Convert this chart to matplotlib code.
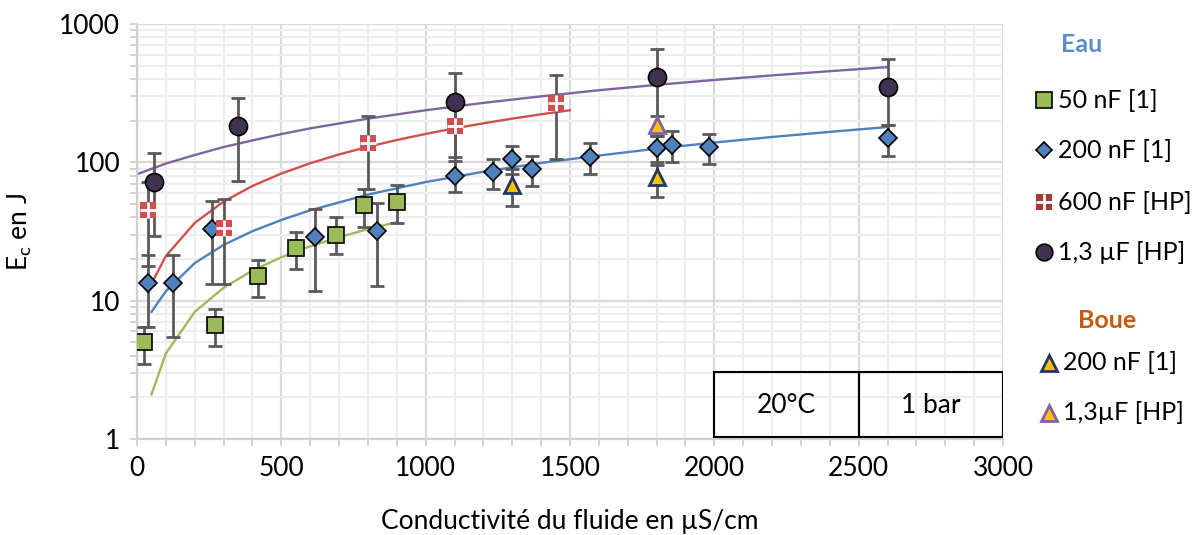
import matplotlib
matplotlib.use('Agg')
import matplotlib.pyplot as plt
from matplotlib.lines import Line2D
from matplotlib.patches import Rectangle
from matplotlib.ticker import FixedLocator, NullFormatter
import numpy as np

plt.rcParams['font.family'] = ['Lato', 'DejaVu Sans']
plt.rcParams['mathtext.default'] = 'regular'

# Measured points, "Eau"
green_x = [25, 270, 420, 550, 690, 785, 900]
green_y = [5.0, 6.7, 15.1, 24, 30, 49, 52]
green_lo = [3.5, 4.7, 10.6, 17, 21.8, 34, 36.5]
green_hi = [6.5, 8.7, 19.7, 31.4, 40, 64, 68.7]

blue_x = [37, 125, 260, 615, 832, 1100, 1233, 1300, 1367, 1570, 1800, 1852, 1980, 2600]
blue_y = [13.4, 13.5, 32.8, 29, 32, 80, 85.7, 106, 89, 109, 126, 134, 129, 150]
blue_lo = [6.45, 5.45, 13.1, 11.8, 12.8, 61, 64.5, 82, 67, 82, 96, 101, 97, 111]
blue_hi = [21.4, 21.4, 52.6, 46, 51, 102, 106, 132, 111, 138, 156, 169, 160, 186]

red_x = [37, 300, 800, 1100, 1450]
red_y = [45, 33.7, 138, 184, 268]
red_lo = [17.8, 13.3, 64, 80, 106]
red_hi = [72, 54, 216, 290, 429]

purple_x = [60, 350, 1100, 1800, 2600]
purple_y = [72, 183, 275, 415, 351]
purple_lo = [29.4, 73, 110, 165, 186]
purple_hi = [117, 292, 441, 657, 560]
purple_xerr_last = 20

# Measured points, "Boue"
boue200_x = [1300, 1800]
boue200_y = [68.7, 78.8]
boue200_lo = [48.5, 56.5]
boue200_hi = [89, 101]

boue13_x = [1800]
boue13_y = [185]
boue13_lo = [155]
boue13_hi = [215]

# Model curves
green_line_x = [50, 100, 200, 300, 400, 500, 600, 700, 800, 900]
green_line_y = [2.1, 4.15, 8.3, 12.4, 16.5, 20.6, 24.7, 28.8, 32.9, 37]
blue_line_x = [50, 100, 200, 300, 400, 500, 600, 800, 1000, 1200, 1400, 1600, 1800, 2000, 2200, 2400, 2600]
blue_line_y = [8.3, 11.7, 18.7, 25.3, 31.8, 38.3, 45, 58.5, 72, 85.5, 99, 112, 125.5, 139, 152.5, 166, 180]
red_line_x = [50, 100, 200, 300, 400, 500, 600, 700, 800, 900, 1000, 1100, 1200, 1300, 1400, 1500]
red_line_y = [13.3, 21, 36.5, 52, 67.5, 83, 98.5, 114, 129.5, 145, 160.5, 176, 191.5, 207, 222.5, 238]
purple_line_x = [0, 100, 200, 300, 400, 500, 600, 800, 1000, 1200, 1400, 1600, 1800, 2000, 2200, 2400, 2600]
purple_line_y = [82, 98, 113, 129, 144, 160, 176, 207, 238, 269, 300, 332, 363, 394, 425, 456, 488]

GREEN = '#9bbb59'
BLUE = '#4f81bd'
RED = '#d0504d'
PURPLE = '#8064a2'
DARKPURPLE = '#403151'
YELLOW = '#ffc000'
ERR = '#595959'

fig = plt.figure(figsize=(12.03, 5.35), dpi=100)
ax = fig.add_axes([137 / 1203, 1 - 439 / 535, 866 / 1203, 415 / 535])

ax.set_yscale('log')
ax.set_xlim(0, 3000)
ax.set_ylim(1, 1000)

# grid
ax.xaxis.set_major_locator(FixedLocator(np.arange(0, 3001, 500)))
ax.xaxis.set_minor_locator(FixedLocator(np.arange(0, 3001, 100)))
ax.grid(True, which='major', color='#d9d9d9', linewidth=1.6, zorder=0)
ax.grid(True, which='minor', color='#eeeeee', linewidth=1.6, zorder=0)
ax.set_axisbelow(True)
for s in ['top', 'right']:
    ax.spines[s].set_visible(False)
for s in ['left', 'bottom']:
    ax.spines[s].set_color('#d0d0d0')
    ax.spines[s].set_linewidth(1.6)
ax.tick_params(which='both', direction='out', color='#d0d0d0', width=1.3, length=5)
ax.tick_params(which='major', labelsize=19, pad=7)
ax.yaxis.set_minor_formatter(NullFormatter())
ax.set_yticks([1, 10, 100, 1000])
ax.set_yticklabels(['1', '10', '100', '1000'])

# model lines
ax.plot(green_line_x, green_line_y, color=GREEN, lw=1.7, zorder=2)
ax.plot(blue_line_x, blue_line_y, color=BLUE, lw=1.7, zorder=2)
ax.plot(red_line_x, red_line_y, color=RED, lw=1.7, zorder=2)
ax.plot(purple_line_x, purple_line_y, color=PURPLE, lw=1.7, zorder=2)

def err(y, lo, hi):
    y = np.array(y)
    return [y - np.array(lo), np.array(hi) - y]

eb = dict(fmt='none', ecolor=ERR, elinewidth=2, capsize=5, capthick=2, zorder=3)
ax.errorbar(green_x, green_y, yerr=err(green_y, green_lo, green_hi), **eb)
ax.errorbar(blue_x, blue_y, yerr=err(blue_y, blue_lo, blue_hi), **eb)
ax.errorbar(red_x, red_y, yerr=err(red_y, red_lo, red_hi), **eb)
ax.errorbar(purple_x, purple_y, yerr=err(purple_y, purple_lo, purple_hi), **eb)
ax.errorbar(purple_x[-1:], purple_y[-1:], xerr=purple_xerr_last, **eb)
ax.errorbar(boue200_x, boue200_y, yerr=err(boue200_y, boue200_lo, boue200_hi), **eb)
ax.errorbar(boue13_x, boue13_y, yerr=err(boue13_y, boue13_lo, boue13_hi), **eb)

# markers
ax.plot(green_x, green_y, 's', ms=12, mfc=GREEN, mec='black', mew=1.2, zorder=5)
ax.plot(blue_x, blue_y, 'D', ms=9, mfc=BLUE, mec='black', mew=1.2, zorder=5)
ax.plot(red_x, red_y, 's', ms=11, mfc=RED, mec=RED, mew=0, zorder=5)
ax.plot(red_x, red_y, '+', ms=11, mec='white', mew=2, zorder=6)
ax.plot(purple_x, purple_y, 'o', ms=13, mfc=DARKPURPLE, mec='black', mew=1.2, zorder=5)
ax.plot(boue200_x, boue200_y, '^', ms=12, mfc=YELLOW, mec='#1f3864', mew=2, zorder=7)
ax.plot(boue13_x, boue13_y, '^', ms=12, mfc=YELLOW, mec=PURPLE, mew=2, zorder=7)

# conditions box
ax.add_patch(Rectangle((2000, 1.03), 500, 2.0, fill=False, ec='black', lw=1.5, zorder=8))
ax.add_patch(Rectangle((2500, 1.03), 500, 2.0, fill=False, ec='black', lw=1.5, zorder=8))
ax.text(2250, 1.75, '20°C', ha='center', va='center', fontsize=19, zorder=9)
ax.text(2750, 1.75, '1 bar', ha='center', va='center', fontsize=19, zorder=9)

ax.set_xlabel('Conductivité du fluide en µS/cm', fontsize=19)
ax.set_ylabel('E$_{c}$ en J', fontsize=19)
ax.xaxis.set_label_coords(0.5, -82 / 415)
ax.yaxis.set_label_coords(-117 / 866, 0.5)
ax.xaxis.label.set_va('center')
ax.yaxis.label.set_va('center')

# side legend
def fx(px):
    return px / 1203

def fy(py):
    return 1 - py / 535

fig.text(fx(1082), fy(45), 'Eau', color='#5b8ed0', fontsize=18, fontweight='bold', ha='center', va='center')
fig.text(fx(1107), fy(320), 'Boue', color='#c55a11', fontsize=18, fontweight='bold', ha='center', va='center')

items = [
    (1044, 100, dict(marker='s', ms=12, mfc=GREEN, mec='black', mew=1.2), '50 nF [1]', 1058),
    (1044, 150, dict(marker='D', ms=8, mfc=BLUE, mec='black', mew=1.2), '200 nF [1]', 1058),
    (1044, 202, dict(marker='s', ms=12, mfc='#a33a37', mec='#a33a37', mew=0), '600 nF [HP]', 1058),
    (1044, 252, dict(marker='o', ms=12, mfc=DARKPURPLE, mec='black', mew=1.2), '1,3 µF [HP]', 1058),
    (1049, 363, dict(marker='^', ms=11, mfc=YELLOW, mec='#1f3864', mew=2), '200 nF [1]', 1063),
    (1049, 413, dict(marker='^', ms=11, mfc=YELLOW, mec=PURPLE, mew=2), '1,3µF [HP]', 1063),
]
for px, py, style, label, tx in items:
    fig.add_artist(Line2D([fx(px)], [fy(py)], transform=fig.transFigure, **style))
    fig.text(fx(tx), fy(py), label, fontsize=18, ha='left', va='center')
fig.add_artist(Line2D([fx(1044)], [fy(202)], transform=fig.transFigure,
                      marker='+', ms=12, mec='white', mew=2))

fig.savefig('out.png', dpi=100)
